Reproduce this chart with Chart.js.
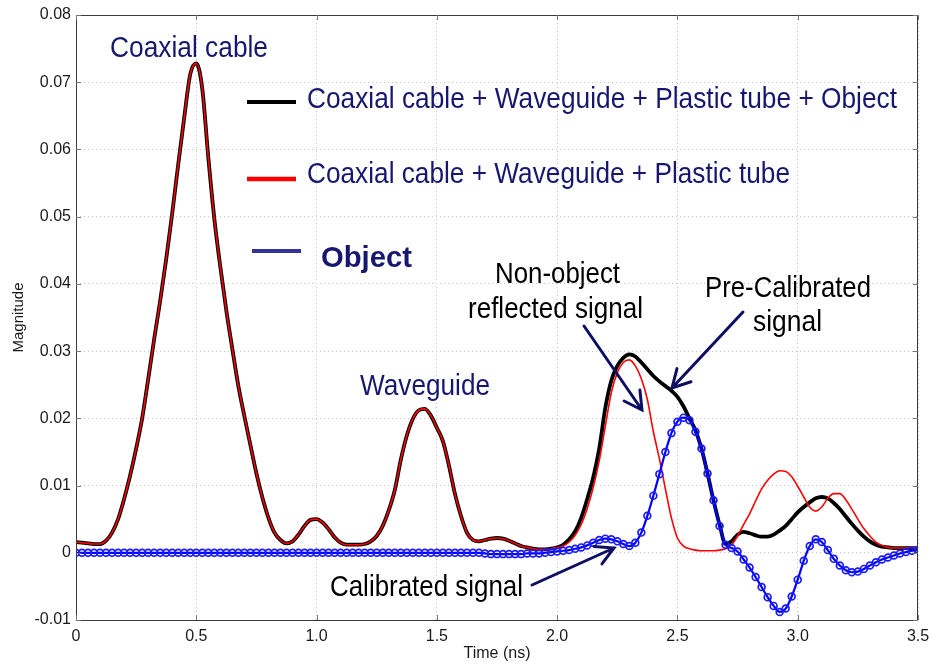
<!DOCTYPE html>
<html>
<head>
<meta charset="utf-8">
<script src="https://cdn.jsdelivr.net/npm/chart.js@4.4.1/dist/chart.umd.min.js"></script>
<style>
  html, body { margin: 0; padding: 0; background: #ffffff; }
  #wrap { width: 930px; height: 666px; }
</style>
</head>
<body>
<div id="wrap"><canvas id="c" width="930" height="666"></canvas></div>
<script>
// Sampling instants (ns), one row = 0.2 ns
const timeNs = [
  0.000, 0.025, 0.050, 0.075, 0.100, 0.125, 0.150, 0.175,
  0.200, 0.225, 0.250, 0.275, 0.300, 0.325, 0.350, 0.375,
  0.400, 0.425, 0.450, 0.475, 0.500, 0.525, 0.550, 0.575,
  0.600, 0.625, 0.650, 0.675, 0.700, 0.725, 0.750, 0.775,
  0.800, 0.825, 0.850, 0.875, 0.900, 0.925, 0.950, 0.975,
  1.000, 1.025, 1.050, 1.075, 1.100, 1.125, 1.150, 1.175,
  1.200, 1.225, 1.250, 1.275, 1.300, 1.325, 1.350, 1.375,
  1.400, 1.425, 1.450, 1.475, 1.500, 1.525, 1.550, 1.575,
  1.600, 1.625, 1.650, 1.675, 1.700, 1.725, 1.750, 1.775,
  1.800, 1.825, 1.850, 1.875, 1.900, 1.925, 1.950, 1.975,
  2.000, 2.025, 2.050, 2.075, 2.100, 2.125, 2.150, 2.175,
  2.200, 2.225, 2.250, 2.275, 2.300, 2.325, 2.350, 2.375,
  2.400, 2.425, 2.450, 2.475, 2.500, 2.525, 2.550, 2.575,
  2.600, 2.625, 2.650, 2.675, 2.700, 2.725, 2.750, 2.775,
  2.800, 2.825, 2.850, 2.875, 2.900, 2.925, 2.950, 2.975,
  3.000, 3.025, 3.050, 3.075, 3.100, 3.125, 3.150, 3.175,
  3.200, 3.225, 3.250, 3.275, 3.300, 3.325, 3.350, 3.375,
  3.400, 3.425, 3.450, 3.475, 3.500
];

// Coaxial cable + Waveguide + Plastic tube + Object
const withObject = [
  0.0016, 0.0015, 0.0014, 0.0013, 0.0013, 0.0018, 0.0030, 0.0050,
  0.0080, 0.0115, 0.0155, 0.0200, 0.0258, 0.0318, 0.0375, 0.0437,
  0.0505, 0.0578, 0.0648, 0.0712, 0.0728, 0.0690, 0.0588, 0.0497,
  0.0425, 0.0360, 0.0303, 0.0248, 0.0203, 0.0160, 0.0118, 0.0082,
  0.0052, 0.0030, 0.0019, 0.0014, 0.0017, 0.0027, 0.0040, 0.0049,
  0.0050, 0.0045, 0.0035, 0.0023, 0.0015, 0.0012, 0.0012, 0.0012,
  0.0013, 0.0017, 0.0025, 0.0040, 0.0063, 0.0093, 0.0138, 0.0174,
  0.0199, 0.0212, 0.0214, 0.0204, 0.0186, 0.0166, 0.0130, 0.0088,
  0.0055, 0.0030, 0.0019, 0.0017, 0.0019, 0.0021, 0.0022, 0.0021,
  0.0018, 0.0014, 0.0010, 0.0008, 0.0006, 0.0005, 0.0005, 0.0006,
  0.0008, 0.0012, 0.0020, 0.0032, 0.0052, 0.0080, 0.0112, 0.0155,
  0.0215, 0.0256, 0.0278, 0.0290, 0.0295, 0.0292, 0.0283, 0.0273,
  0.0263, 0.0255, 0.0248, 0.0241, 0.0232, 0.0218, 0.0200, 0.0182,
  0.0155, 0.0118, 0.0078, 0.0042, 0.0013, 0.0017, 0.0027, 0.0031,
  0.0029, 0.0026, 0.0024, 0.0024, 0.0027, 0.0033, 0.0040, 0.0050,
  0.0060, 0.0068, 0.0075, 0.0081, 0.0083, 0.0081, 0.0074, 0.0065,
  0.0054, 0.0043, 0.0033, 0.0024, 0.0017, 0.0012, 0.0009, 0.0008,
  0.0007, 0.0007, 0.0007, 0.0007, 0.0007
];

// Coaxial cable + Waveguide + Plastic tube
const withoutObject = [
  0.0016, 0.0015, 0.0014, 0.0013, 0.0013, 0.0018, 0.0030, 0.0050,
  0.0080, 0.0115, 0.0155, 0.0200, 0.0258, 0.0318, 0.0375, 0.0437,
  0.0505, 0.0578, 0.0648, 0.0712, 0.0728, 0.0690, 0.0588, 0.0497,
  0.0425, 0.0360, 0.0303, 0.0248, 0.0203, 0.0160, 0.0118, 0.0082,
  0.0052, 0.0030, 0.0019, 0.0014, 0.0017, 0.0027, 0.0040, 0.0049,
  0.0050, 0.0045, 0.0035, 0.0023, 0.0015, 0.0012, 0.0012, 0.0012,
  0.0013, 0.0017, 0.0025, 0.0040, 0.0063, 0.0093, 0.0138, 0.0174,
  0.0199, 0.0212, 0.0214, 0.0204, 0.0186, 0.0166, 0.0130, 0.0088,
  0.0055, 0.0030, 0.0019, 0.0017, 0.0019, 0.0021, 0.0022, 0.0021,
  0.0018, 0.0014, 0.0010, 0.0008, 0.0006, 0.0005, 0.0005, 0.0006,
  0.0008, 0.0010, 0.0016, 0.0026, 0.0042, 0.0066, 0.0097, 0.0137,
  0.0188, 0.0238, 0.0268, 0.0283, 0.0287, 0.0278, 0.0259, 0.0228,
  0.0180, 0.0140, 0.0095, 0.0052, 0.0022, 0.0010, 0.0006, 0.0004,
  0.0003, 0.0003, 0.0003, 0.0004, 0.0006, 0.0012, 0.0025, 0.0042,
  0.0058, 0.0077, 0.0095, 0.0108, 0.0117, 0.0122, 0.0121, 0.0113,
  0.0099, 0.0083, 0.0068, 0.0062, 0.0068, 0.0081, 0.0088, 0.0088,
  0.0079, 0.0065, 0.0050, 0.0036, 0.0025, 0.0016, 0.0011, 0.0008,
  0.0007, 0.0007, 0.0007, 0.0007, 0.0007
];

// Object (calibrated signal)
const objectOnly = [
  0, 0, 0, 0, 0, 0, 0, 0,
  0, 0, 0, 0, 0, 0, 0, 0,
  0, 0, 0, 0, 0, 0, 0, 0,
  0, 0, 0, 0, 0, 0, 0, 0,
  0, 0, 0, 0, 0, 0, 0, 0,
  0, 0, 0, 0, 0, 0, 0, 0,
  0, 0, 0, 0, 0, 0, 0, 0,
  0, 0, 0, 0, 0, 0, 0, 0,
  0, 0, 0, 0, -0.0001, -0.0002, -0.0002, -0.0002,
  -0.0002, -0.0002, -0.0002, -0.0001, -0.0001, -0.0001, 0.0000, 0.0001,
  0.0002, 0.0003, 0.0004, 0.0006, 0.0008, 0.0011, 0.0015, 0.0019,
  0.0021, 0.0020, 0.0017, 0.0013, 0.0010, 0.0015, 0.0030, 0.0055,
  0.0085, 0.0117, 0.0150, 0.0178, 0.0195, 0.0201, 0.0197, 0.0180,
  0.0155, 0.0118, 0.0078, 0.0040, 0.0012, 0.0007, 0.0002, -0.0010,
  -0.0022, -0.0036, -0.0051, -0.0066, -0.0079, -0.0088, -0.0083, -0.0065,
  -0.0040, -0.0012, 0.0010, 0.0020, 0.0016, 0.0004, -0.0009, -0.0019,
  -0.0026, -0.0029, -0.0028, -0.0024, -0.0019, -0.0014, -0.0010, -0.0007,
  -0.0004, -0.0001, 0.0001, 0.0003, 0.0004
];

const seriesNames = [
  'Coaxial cable + Waveguide + Plastic tube + Object',
  'Coaxial cable + Waveguide + Plastic tube',
  'Object'
];
const xTickLabels = ['0', '0.5', '1.0', '1.5', '2.0', '2.5', '3.0', '3.5'];
const yTickLabels = ['-0.01', '0', '0.01', '0.02', '0.03', '0.04', '0.05', '0.06', '0.07', '0.08'];

const toPoints = (ys) => timeNs.map((t, i) => ({ x: t, y: ys[i] }));

const NAVY = '#17176f';
const ARROW = '#0e0e62';
const NARROW = "'Liberation Sans Narrow', 'Arial Narrow', 'Liberation Sans', Arial, sans-serif";
const REGULAR = "'Liberation Sans', Arial, sans-serif";

// Text drawn inside the plot: left edge, baseline, fitted width (px)
const plotTexts = [
  { text: 'Coaxial cable', x: 110, y: 57, w: 158, font: '30px ' + NARROW, color: NAVY },
  { text: 'Waveguide', x: 360, y: 395, w: 130, font: '29px ' + NARROW, color: NAVY },
  { text: seriesNames[0], x: 307, y: 108, w: 590, font: '30px ' + NARROW, color: NAVY },
  { text: seriesNames[1], x: 307, y: 183, w: 483, font: '30px ' + NARROW, color: NAVY },
  { text: seriesNames[2], x: 321, y: 267, w: 91, font: 'bold 30px ' + REGULAR, color: NAVY },
  { text: 'Non-object', x: 495, y: 283, w: 125, font: '29px ' + NARROW, color: '#000' },
  { text: 'reflected signal', x: 468, y: 318, w: 175, font: '29px ' + NARROW, color: '#000' },
  { text: 'Pre-Calibrated', x: 705, y: 297, w: 166, font: '29px ' + NARROW, color: '#000' },
  { text: 'signal', x: 753, y: 331, w: 69, font: '29px ' + NARROW, color: '#000' },
  { text: 'Calibrated signal', x: 330, y: 596, w: 193, font: '29px ' + NARROW, color: '#000' }
];

// Legend swatches: x0, x1, y, width, colour
const swatches = [
  { x0: 247, x1: 296, y: 102, lw: 4, color: '#000000' },
  { x0: 247, x1: 296, y: 179, lw: 4.5, color: '#ff0000' },
  { x0: 252, x1: 301, y: 251, lw: 4, color: '#333399' }
];

// Annotation arrows: tail -> head (px)
const arrows = [
  { from: [584, 326], to: [642, 410] },
  { from: [743, 312], to: [672, 388] },
  { from: [532, 585], to: [614, 548] }
];

function fitText(ctx, item) {
  ctx.save();
  ctx.font = item.font;
  ctx.fillStyle = item.color;
  ctx.textAlign = 'left';
  ctx.textBaseline = 'alphabetic';
  const w = ctx.measureText(item.text).width;
  ctx.translate(item.x, item.y);
  ctx.scale(item.w / w, 1);
  ctx.fillText(item.text, 0, 0);
  ctx.restore();
}

function drawArrow(ctx, a) {
  const [x0, y0] = a.from, [x1, y1] = a.to;
  const ang = Math.atan2(y1 - y0, x1 - x0);
  const len = 20, spread = 0.5;
  ctx.save();
  ctx.strokeStyle = ARROW;
  ctx.lineWidth = 3;
  ctx.lineCap = 'round';
  ctx.beginPath();
  ctx.moveTo(x0, y0); ctx.lineTo(x1, y1);
  ctx.moveTo(x1 - len * Math.cos(ang - spread), y1 - len * Math.sin(ang - spread));
  ctx.lineTo(x1, y1);
  ctx.lineTo(x1 - len * Math.cos(ang + spread), y1 - len * Math.sin(ang + spread));
  ctx.stroke();
  ctx.restore();
}

// Box around the axes with inward tick marks on all four sides
const frameAndNotes = {
  id: 'frameAndNotes',
  afterDraw(chart) {
    const { ctx, chartArea: a, scales } = chart;
    ctx.save();
    ctx.strokeStyle = '#3a3a3a';
    ctx.lineWidth = 1;
    ctx.strokeRect(a.left + 0.5, a.top + 0.5, a.right - a.left - 1, a.bottom - a.top);
    ctx.beginPath();
    const tl = 5;
    scales.x.ticks.forEach(t => {
      const px = Math.round(scales.x.getPixelForValue(t.value)) + 0.5;
      ctx.moveTo(px, a.bottom); ctx.lineTo(px, a.bottom - tl);
      ctx.moveTo(px, a.top); ctx.lineTo(px, a.top + tl);
    });
    scales.y.ticks.forEach(t => {
      const py = Math.round(scales.y.getPixelForValue(t.value)) + 0.5;
      ctx.moveTo(a.left, py); ctx.lineTo(a.left + tl, py);
      ctx.moveTo(a.right, py); ctx.lineTo(a.right - tl, py);
    });
    ctx.strokeStyle = '#777';
    ctx.stroke();
    ctx.restore();

    swatches.forEach(s => {
      ctx.save();
      ctx.strokeStyle = s.color;
      ctx.lineWidth = s.lw;
      ctx.beginPath();
      ctx.moveTo(s.x0, s.y); ctx.lineTo(s.x1, s.y);
      ctx.stroke();
      ctx.restore();
    });
    plotTexts.forEach(t => fitText(ctx, t));
    arrows.forEach(a2 => drawArrow(ctx, a2));
  }
};

new Chart(document.getElementById('c'), {
  type: 'line',
  data: {
    datasets: [
      {
        label: seriesNames[2],
        data: toPoints(objectOnly),
        borderColor: '#0000ff',
        borderWidth: 2.2,
        pointStyle: 'circle',
        pointRadius: 3.4,
        pointBorderWidth: 1.7,
        pointBorderColor: '#1a1aff',
        pointBackgroundColor: 'rgba(0,0,0,0)',
        cubicInterpolationMode: 'monotone',
        order: 0
      },
      {
        label: seriesNames[1],
        data: toPoints(withoutObject),
        borderColor: '#ff0000',
        borderWidth: 1.6,
        pointRadius: 0,
        cubicInterpolationMode: 'monotone',
        order: 1
      },
      {
        label: seriesNames[0],
        data: toPoints(withObject),
        borderColor: '#000000',
        borderWidth: 3.8,
        pointRadius: 0,
        cubicInterpolationMode: 'monotone',
        order: 2
      }
    ]
  },
  options: {
    responsive: false,
    animation: false,
    devicePixelRatio: 1,
    layout: { padding: { left: 0, top: 15, right: 12, bottom: 0 } },
    plugins: { legend: { display: false }, tooltip: { enabled: false } },
    scales: {
      x: {
        type: 'linear',
        min: 0, max: 3.5,
        afterFit(scale) {
          scale.height = 46;
          scale.paddingLeft = 0;
          scale.paddingRight = 0;
        },
        ticks: {
          stepSize: 0.5,
          padding: 7,
          maxRotation: 0,
          color: '#1a1a1a',
          font: { family: REGULAR, size: 16 },
          callback: (v) => xTickLabels[Math.round(v * 2)]
        },
        grid: { color: '#c4c4c4', lineWidth: 1, drawTicks: false },
        border: { display: false, dash: [1, 3] },
        title: {
          display: true, text: 'Time (ns)', color: '#1a1a1a',
          font: { family: REGULAR, size: 16 },
          padding: { top: 0, bottom: 3 }
        }
      },
      y: {
        type: 'linear',
        min: -0.01, max: 0.08,
        afterFit(scale) {
          scale.width = 76;
          scale.paddingTop = 0;
          scale.paddingBottom = 0;
        },
        ticks: {
          stepSize: 0.01,
          padding: 5,
          color: '#1a1a1a',
          font: { family: REGULAR, size: 16 },
          callback: (v) => yTickLabels[Math.round(v * 100) + 1]
        },
        grid: { color: '#c4c4c4', lineWidth: 1, drawTicks: false },
        border: { display: false, dash: [1, 3] },
        title: {
          display: true, text: 'Magnitude', color: '#1a1a1a',
          font: { family: REGULAR, size: 15 },
          padding: { top: 10, bottom: 0 }
        }
      }
    }
  },
  plugins: [frameAndNotes]
});
</script>
</body>
</html>
